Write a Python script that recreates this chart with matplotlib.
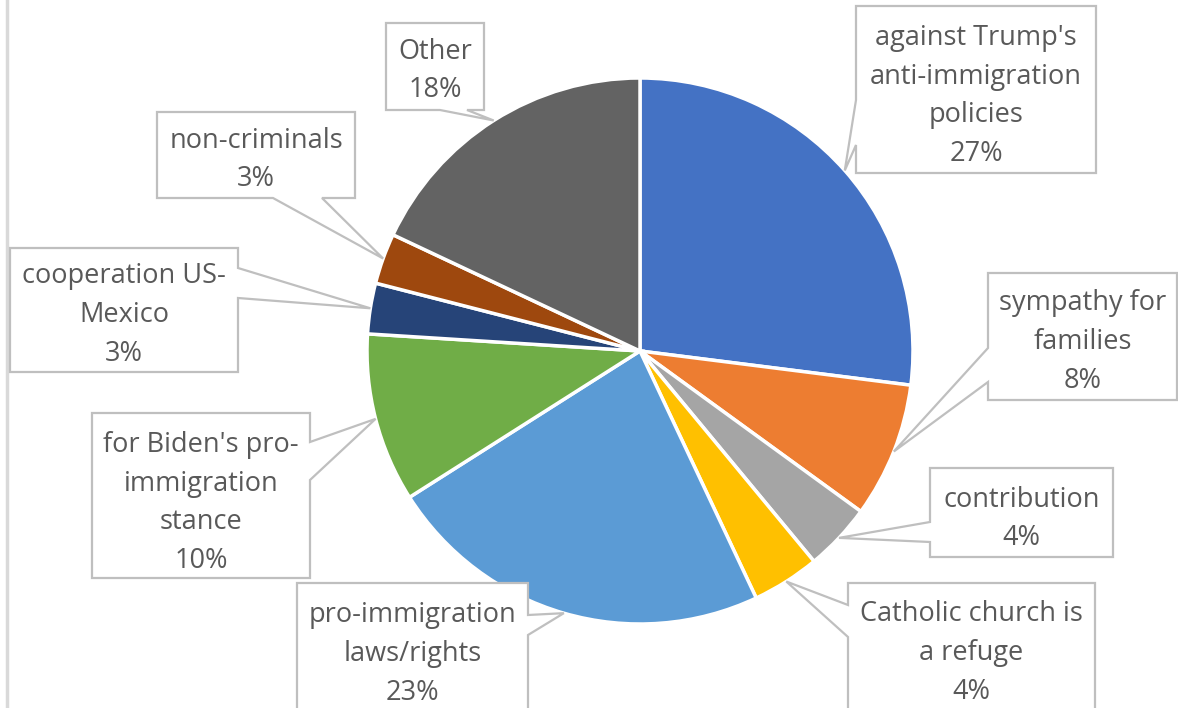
## pie chart with callout labels
import numpy as np
import matplotlib.pyplot as plt
from matplotlib.patches import Polygon

#%% DATA
labels = ["against Trump's\nanti-immigration\npolicies",
          "sympathy for\nfamilies",
          "contribution",
          "Catholic church is\na refuge",
          "pro-immigration\nlaws/rights",
          "for Biden's pro-\nimmigration\nstance",
          "cooperation US-\nMexico",
          "non-criminals",
          "Other"]
values = [27, 8, 4, 4, 23, 10, 3, 3, 18]
colors = ['#4472C4', '#ED7D31', '#A5A5A5', '#FFC000', '#5B9BD5',
          '#70AD47', '#264478', '#9E480E', '#636363']

#%% LAYOUT (pixels, y measured from the top)
W, H = 1178, 708
cx, cy, R = 640, 351, 273
# callout boxes: x0, y0, x1, y1, side of the pointer, pointer base a..b
boxes = [(856, 6, 1096, 173, 'left', 100, 145),
         (988, 273, 1177, 400, 'left', 348, 382),
         (930, 468, 1113, 557, 'left', 522, 542),
         (848, 583, 1095, 722, 'left', 605, 637),
         (297, 583, 528, 722, 'right', 615, 635),
         (92, 413, 310, 578, 'right', 442, 480),
         (10, 248, 238, 372, 'right', 268, 298),
         (157, 112, 355, 198, 'bottom', 273, 322),
         (386, 23, 484, 110, 'bottom', 440, 467)]
# vertical centre of the text block in each box
text_y = [96, 342, 519, 653, 654, 503, 315, 160, 71]

fig = plt.figure(figsize=(W / 100, H / 100), dpi=100)
ax = fig.add_axes([0, 0, 1, 1])
ax.set_xlim(0, W)
ax.set_ylim(0, H)
ax.set_aspect('equal')
ax.axis('off')

wedges, _ = ax.pie(values, colors=colors, startangle=90, counterclock=False,
                   center=(cx, H - cy), radius=R,
                   wedgeprops=dict(edgecolor='white', linewidth=2.5))
ax.set_xlim(0, W)
ax.set_ylim(0, H)


def callout(x0, y0, x1, y1, side, a, b, tip):
    # rectangle traced clockwise on screen with the pointer spliced in
    tx, ty = tip
    if side == 'right':
        pts = [(x0, y0), (x1, y0), (x1, a), (tx, ty), (x1, b), (x1, y1), (x0, y1)]
    elif side == 'bottom':
        pts = [(x0, y0), (x1, y0), (x1, y1), (b, y1), (tx, ty), (a, y1), (x0, y1)]
    else:
        pts = [(x0, y0), (x1, y0), (x1, y1), (x0, y1), (x0, b), (tx, ty), (x0, a)]
    pts = [(px, H - py) for px, py in pts]
    ax.add_patch(Polygon(pts, closed=True, facecolor='white',
                         edgecolor='#BFBFBF', linewidth=1.6, zorder=3))


for w, lab, v, bx, yt in zip(wedges, labels, values, boxes, text_y):
    mid = np.deg2rad((w.theta1 + w.theta2) / 2)
    tip = (cx + R * np.cos(mid), cy - R * np.sin(mid))
    x0, y0, x1, y1, side, a, b = bx
    callout(x0, y0, x1, y1, side, a, b, tip)
    ax.text((x0 + x1) / 2, H - yt, lab + '\n' + str(v) + '%',
            ha='center', va='center', fontsize=19.5, family='Open Sans',
            color='#595959', linespacing=1.52, zorder=4)

# thin frame line on the left edge
ax.plot([7, 7], [0, H], color='#D9D9D9', linewidth=2.5)

fig.savefig('out.png', dpi=100)
